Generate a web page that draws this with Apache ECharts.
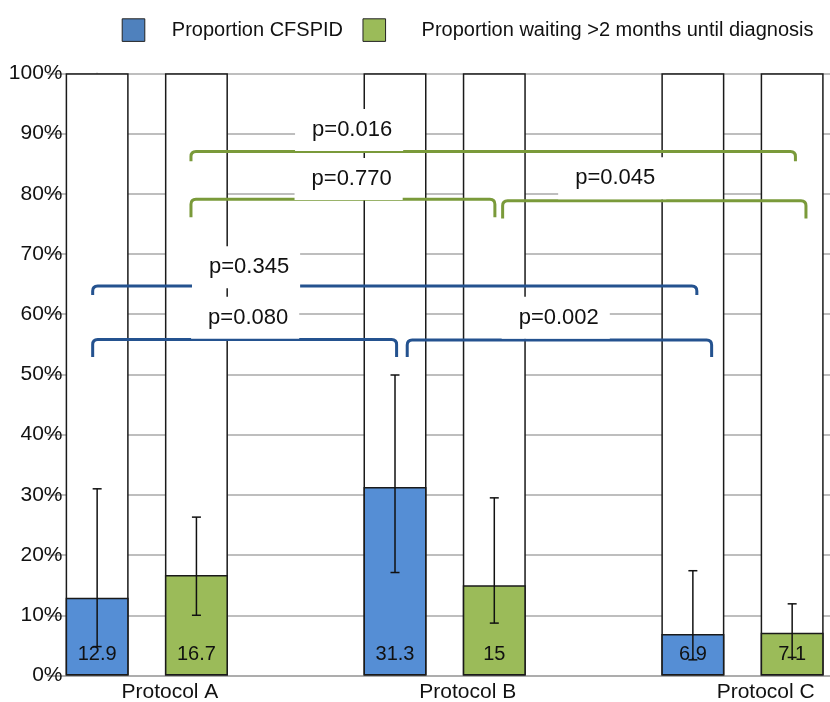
<!DOCTYPE html>
<html><head><meta charset="utf-8">
<script src="https://cdn.jsdelivr.net/npm/echarts@6/dist/echarts.min.js"></script>
<style>html,body{margin:0;padding:0;background:#fff}#c{width:830px;height:702px}</style>
</head><body><div id="c"></div>
<script>
// ---- data ----
const protocols = ['Protocol A', 'Protocol B', 'Protocol C'];
const seriesNames = ['Proportion CFSPID', 'Proportion waiting >2 months until diagnosis'];
const cfspid = [12.9, 31.3, 6.9];
const waiting = [16.7, 15, 7.1];
const cfspidLow = [4.8, 17.1, 2.6];
const cfspidHigh = [31.0, 49.9, 17.4];
const waitingLow = [10.0, 8.7, 3.0];
const waitingHigh = [26.3, 29.5, 11.9];
const yTicks = [0, 10, 20, 30, 40, 50, 60, 70, 80, 90, 100];
// significance brackets (x in bar-slot units, y in %)
const pLabels = ['p=0.080', 'p=0.345', 'p=0.002', 'p=0.016', 'p=0.770', 'p=0.045'];
const pGroup = [0, 0, 0, 1, 1, 1]; // 0 = CFSPID comparison, 1 = waiting comparison
const bracketX1 = [-0.045, -0.045, 3.123, 0.945, 0.945, 4.084];
const bracketX2 = [3.016, 6.04, 6.189, 7.033, 4.006, 7.139];
const bracketTop = [55.8, 64.7, 55.7, 87.0, 79.1, 78.85];
const bracketBottom = [52.9, 63.2, 52.9, 85.4, 76.1, 75.9];
const labelX = [1.521, 1.53, 4.649, 2.568, 2.563, 5.218];
const labelY = [59.4, 67.8, 59.4, 90.6, 82.45, 82.56];

// ---- build ----
const FONT = '"Liberation Sans", Arial, Helvetica, sans-serif';
const nSlots = protocols.length * 3 - 1;
const slotNames = [], bg = [], blue = [], green = [];
for (let s = 0; s < nSlots; s++) { slotNames.push('s' + s); bg.push('-'); blue.push('-'); green.push('-'); }
protocols.forEach((p, i) => {
  bg[3 * i] = 100; bg[3 * i + 1] = 100;
  blue[3 * i] = cfspid[i]; green[3 * i + 1] = waiting[i];
});
const errData = [];
protocols.forEach((p, i) => {
  errData.push([3 * i, cfspidLow[i], cfspidHigh[i]]);
  errData.push([3 * i + 1, waitingLow[i], waitingHigh[i]]);
});
const bracketData = pLabels.map((l, i) => [bracketX1[i], bracketX2[i], bracketTop[i], bracketBottom[i], pGroup[i]]);
const labelData = pLabels.map((l, i) => [labelX[i], labelY[i]]);
const bracketColors = ['#24528f', '#7a9a3a'];
const BAR_W = 63;
const borderCol = '#1a1a1a';
const gridCol = '#a8a8a8';

const chart = echarts.init(document.getElementById('c'), null, { renderer: 'canvas' });
chart.setOption({
  animation: false,
  backgroundColor: '#fff',
  textStyle: { fontFamily: FONT },
  legend: {
    left: 116.7, top: 13.3, itemWidth: 22.6, itemHeight: 22.6, itemGap: 19.5,
    icon: 'rect', selectedMode: false,
    textStyle: { fontSize: 20, fontFamily: FONT, color: '#111' },
    data: [
      { name: seriesNames[0], itemStyle: { color: '#4f81bd', borderColor: '#222', borderWidth: 1 }, textStyle: { padding: [0, 0, 0, 22] } },
      { name: seriesNames[1], itemStyle: { color: '#9bbb59', borderColor: '#222', borderWidth: 1 }, textStyle: { padding: [0, 0, 0, 31] } }
    ]
  },
  grid: { left: 47.5, top: 73.3, width: 794.3, height: 602.2, outerBoundsMode: 'none', containLabel: false },
  xAxis: [
    {
      type: 'category', data: slotNames, boundaryGap: true,
      axisLine: { show: true, lineStyle: { color: gridCol, width: 1.5 } },
      axisTick: { show: false },
      axisLabel: {
        interval: 0, margin: 6, fontSize: 21, color: '#111', fontFamily: FONT,
        padding: [0, 53, 0, 0],
        formatter: (v, idx) => (idx % 3 === 1 ? protocols[(idx - 1) / 3] : '')
      },
      splitLine: { show: false }
    },
    { type: 'value', min: -0.5, max: nSlots - 0.5, show: false }
  ],
  yAxis: {
    type: 'value', min: yTicks[0], max: yTicks[yTicks.length - 1], interval: yTicks[1] - yTicks[0],
    axisLine: { show: true, lineStyle: { color: gridCol, width: 1.5 } },
    axisTick: { show: false },
    splitLine: { show: true, lineStyle: { color: gridCol, width: 1.5 } },
    axisLabel: { formatter: '{value}%', margin: -15, fontSize: 21, color: '#111', fontFamily: FONT }
  },
  series: [
    {
      type: 'bar', data: bg, barWidth: BAR_W, barGap: '-100%', silent: true, z: 2,
      itemStyle: { color: '#ffffff', borderColor: borderCol, borderWidth: 1.5 }
    },
    {
      name: seriesNames[0], type: 'bar', data: blue, barWidth: BAR_W, barGap: '-100%', z: 3,
      itemStyle: { color: '#558ed5', borderColor: borderCol, borderWidth: 1.5 },
      label: { show: true, position: 'insideBottom', distance: 11, fontSize: 20, color: '#111', fontFamily: FONT, formatter: '{c}' }
    },
    {
      name: seriesNames[1], type: 'bar', data: green, barWidth: BAR_W, barGap: '-100%', z: 3,
      itemStyle: { color: '#9bbb59', borderColor: borderCol, borderWidth: 1.5 },
      label: { show: true, position: 'insideBottom', distance: 11, fontSize: 20, color: '#111', fontFamily: FONT, formatter: '{c}' }
    },
    {
      type: 'custom', xAxisIndex: 1, yAxisIndex: 0, data: errData, z: 5, silent: true, clip: false,
      renderItem: (params, api) => {
        const x = api.value(0);
        const lo = api.coord([x, api.value(1)]);
        const hi = api.coord([x, api.value(2)]);
        const cap = 4.5;
        const st = { stroke: '#111', lineWidth: 1.5 };
        return {
          type: 'group', children: [
            { type: 'line', shape: { x1: lo[0], y1: lo[1], x2: hi[0], y2: hi[1] }, style: st },
            { type: 'line', shape: { x1: lo[0] - cap, y1: lo[1], x2: lo[0] + cap, y2: lo[1] }, style: st },
            { type: 'line', shape: { x1: hi[0] - cap, y1: hi[1], x2: hi[0] + cap, y2: hi[1] }, style: st }
          ]
        };
      }
    },
    {
      type: 'custom', xAxisIndex: 1, yAxisIndex: 0, data: bracketData, z: 6, silent: true, clip: false,
      renderItem: (params, api) => {
        const a = api.coord([api.value(0), api.value(2)]);
        const b = api.coord([api.value(1), api.value(2)]);
        const yb = api.coord([api.value(0), api.value(3)])[1];
        const r = 5;
        const x1 = a[0], x2 = b[0], yt = a[1];
        const d = `M${x1} ${yb} L${x1} ${yt + r} Q${x1} ${yt} ${x1 + r} ${yt} L${x2 - r} ${yt} Q${x2} ${yt} ${x2} ${yt + r} L${x2} ${yb}`;
        return {
          type: 'path', shape: { pathData: d },
          style: { fill: null, stroke: bracketColors[api.value(4)], lineWidth: 3, lineJoin: 'round' }
        };
      }
    },
    {
      type: 'custom', xAxisIndex: 1, yAxisIndex: 0, data: labelData, z: 7, silent: true, clip: false,
      renderItem: (params, api) => {
        const p = api.coord([api.value(0), api.value(1)]);
        const pad = [10, 11, 10, 17];
        return {
          type: 'text',
          style: {
            text: pLabels[params.dataIndex], x: p[0] - (pad[3] - pad[1]) / 2, y: p[1],
            align: 'center', verticalAlign: 'middle',
            font: '22px ' + FONT, fill: '#111',
            backgroundColor: '#ffffff', padding: pad
          }
        };
      }
    }
  ]
});
</script>
</body></html>
